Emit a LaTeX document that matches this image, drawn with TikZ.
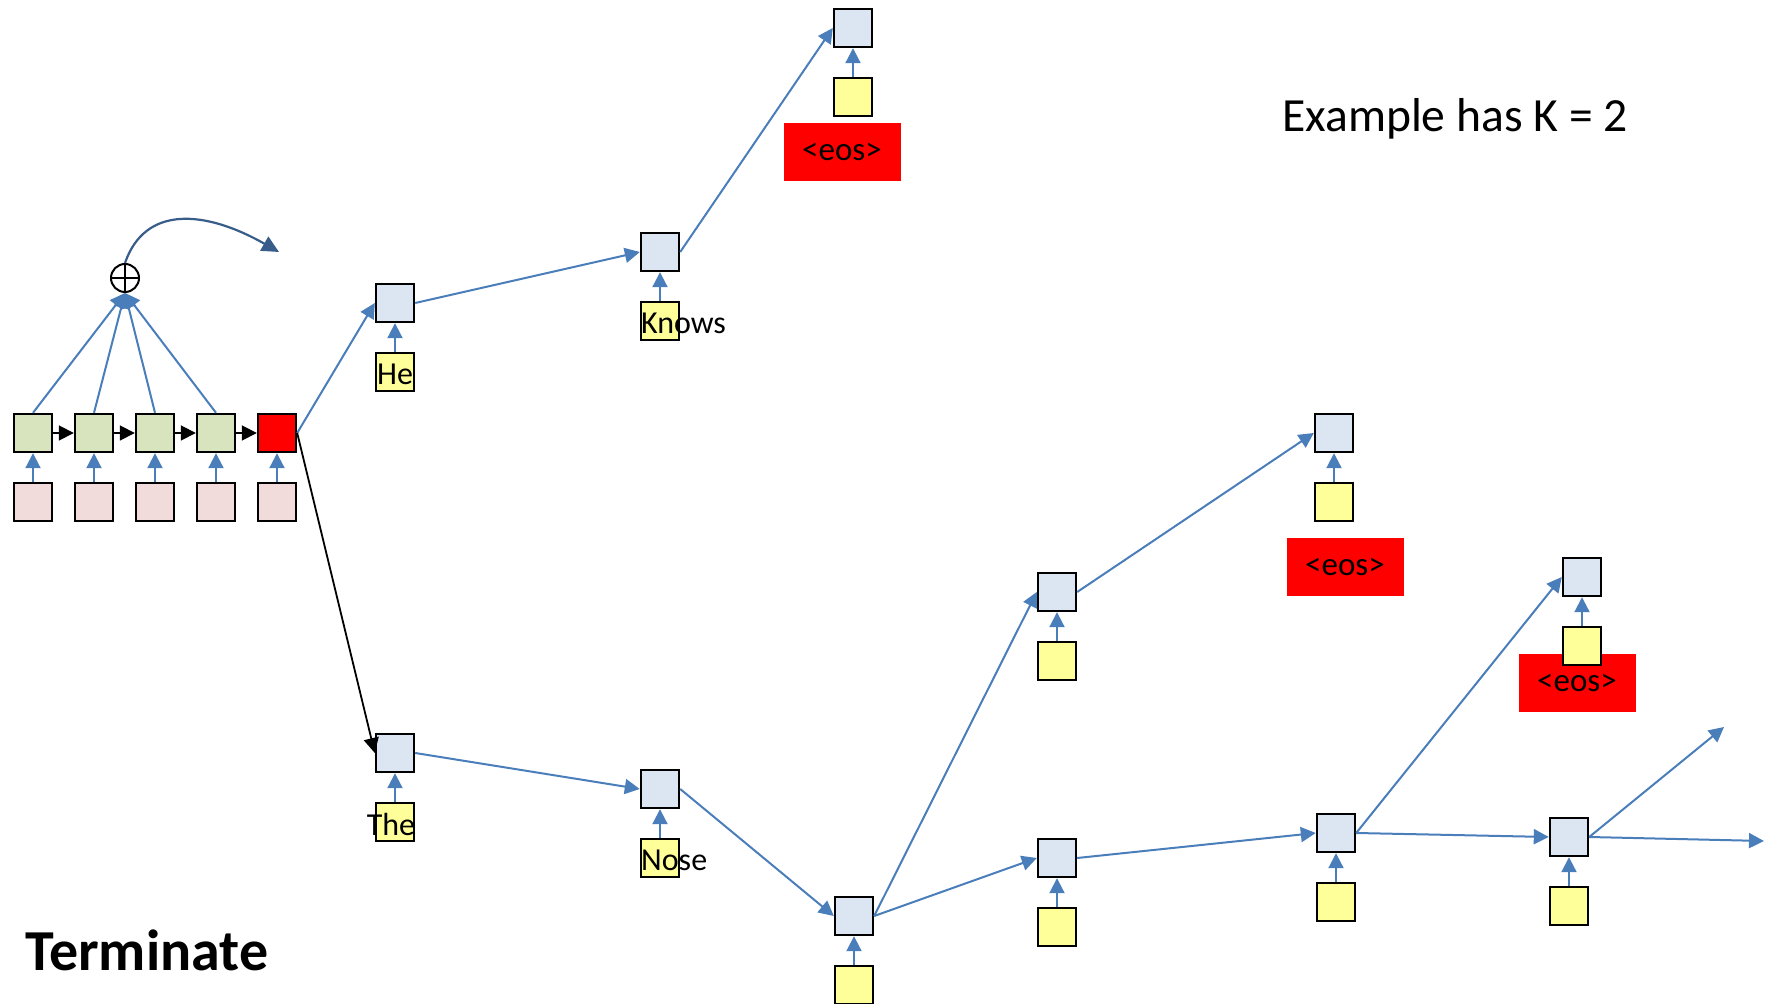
\documentclass[tikz,border=0pt]{standalone}
\usepackage{fontspec}
\setmainfont{Carlito}
\usetikzlibrary{arrows.meta, positioning}
\definecolor{beamblue}{HTML}{4A7EBB}
\definecolor{beamdark}{HTML}{385D8A}
\definecolor{beamhid}{HTML}{DCE6F2}
\definecolor{beamword}{HTML}{FFFF99}
\definecolor{beamenc}{HTML}{D7E4BD}
\definecolor{beamsrc}{HTML}{F2DCDB}
\definecolor{beamred}{HTML}{FF0000}
\tikzset{
  >={Triangle[length=7.5pt, width=7.5pt]},
  cell/.style={rectangle, draw=black, line width=1.2pt, minimum size=19pt, inner sep=0pt},
  hid/.style={cell, fill=beamhid},
  word/.style={cell, fill=beamword},
  enc/.style={cell, fill=beamenc},
  src/.style={cell, fill=beamsrc},
  encr/.style={cell, fill=beamred},
  eosbox/.style={rectangle, fill=beamred, minimum width=58.5pt, minimum height=29pt,
                 inner sep=0pt, font=\fontsize{16.5}{18}\selectfont},
  lbl/.style={inner sep=0pt, font=\fontsize{16}{18}\selectfont},
  flow/.style={->, line width=1pt, draw=beamblue},
  flowk/.style={->, line width=0.9pt, draw=black, >={Triangle[length=7.5pt, width=7.5pt]}},
  curv/.style={->, line width=1.1pt, draw=beamdark, >={Triangle[length=8.5pt, width=8pt]}},
}
\newcommand{\sizept}[1]{\fontsize{#1}{#1}\selectfont}

\begin{document}
\begin{tikzpicture}[x=0.5pt, y=-0.5pt]
  \useasboundingbox (0,0) rectangle (1773,1004);
  % encoder
  \node[enc] (e1) at (33,433) {};
  \node[enc, right=10.3pt of e1] (e2) {};
  \node[enc, right=10.3pt of e2] (e3) {};
  \node[enc, right=10.3pt of e3] (e4) {};
  \node[encr, right=10.3pt of e4] (e5) {};
  \node[src, below=14.3pt of e1] (x1) {};
  \node[src, below=14.3pt of e2] (x2) {};
  \node[src, below=14.3pt of e3] (x3) {};
  \node[src, below=14.3pt of e4] (x4) {};
  \node[src, below=14.3pt of e5] (x5) {};
  \draw[flow] (x1) -- (e1);
  \draw[flow] (x2) -- (e2);
  \draw[flow] (x3) -- (e3);
  \draw[flow] (x4) -- (e4);
  \draw[flow] (x5) -- (e5);
  \draw[flowk] (e1) -- (e2);
  \draw[flowk] (e2) -- (e3);
  \draw[flowk] (e3) -- (e4);
  \draw[flowk] (e4) -- (e5);
  % attention sum
  \node[draw, circle, line width=1pt, minimum size=14pt, inner sep=0pt,
        path picture={\draw[line width=0.8pt] (path picture bounding box.north) -- (path picture bounding box.south)
                      (path picture bounding box.west) -- (path picture bounding box.east);}] (sum) at (125,278) {};
  \draw[flow] (e1.north) -- (sum.south);
  \draw[flow] (e2.north) -- (sum.south);
  \draw[flow] (e3.north) -- (sum.south);
  \draw[flow] (e4.north) -- (sum.south);
  \coordinate (ctx) at (279,252);
  \draw[curv] (sum.north) .. controls (145,205) and (205,210) .. (ctx);

  % red eos boxes
  \node[eosbox] (r1) at (842,152) {<eos>};
  \node[eosbox] (r2) at (1345,567) {<eos>};
  \node[eosbox] (r3) at (1577,683) {<eos>};

  % decoder states
  \node[hid] (he) at (395,303) {};
  \node[hid] (kn) at (660,252) {};
  \node[hid] (te) at (853,28) {};
  \node[hid] (th) at (395,753) {};
  \node[hid] (no) at (660,789) {};
  \node[hid] (n3) at (854,916) {};
  \node[hid] (n4u) at (1057,592) {};
  \node[hid] (n4l) at (1057,858) {};
  \node[hid] (e2s) at (1334,433) {};
  \node[hid] (n5) at (1336,833) {};
  \node[hid] (e3s) at (1582,577) {};
  \node[hid] (n6) at (1569,837) {};
  \coordinate (o1) at (1724,727);
  \coordinate (o2) at (1764,841);

  % decoder inputs
  \node[word, below=14.3pt of he] (hew) {};
  \node[word, below=14.3pt of kn] (knw) {};
  \node[word, below=14.3pt of te] (tew) {};
  \node[word, below=14.3pt of th] (thw) {};
  \node[word, below=14.3pt of no] (now) {};
  \node[word, below=14.3pt of n3] (n3w) {};
  \node[word, below=14.3pt of n4u] (n4uw) {};
  \node[word, below=14.3pt of n4l] (n4lw) {};
  \node[word, below=14.3pt of e2s] (e2w) {};
  \node[word, below=14.3pt of n5] (n5w) {};
  \node[word, below=14.3pt of e3s] (e3w) {};
  \node[word, below=14.3pt of n6] (n6w) {};
  \node[lbl] at ([yshift=-1.2pt]hew) {He};
  \node[lbl] at ([xshift=-2pt, yshift=-1.2pt]thw) {The};
  \node[lbl, anchor=west] at ([xshift=0.5pt, yshift=-1.2pt]knw.west) {Knows};
  \node[lbl, anchor=west] at ([xshift=0.5pt, yshift=-1.2pt]now.west) {Nose};
  \draw[flow] (hew) -- (he);
  \draw[flow] (knw) -- (kn);
  \draw[flow] (tew) -- (te);
  \draw[flow] (thw) -- (th);
  \draw[flow] (now) -- (no);
  \draw[flow] (n3w) -- (n3);
  \draw[flow] (n4uw) -- (n4u);
  \draw[flow] (n4lw) -- (n4l);
  \draw[flow] (e2w) -- (e2s);
  \draw[flow] (n5w) -- (n5);
  \draw[flow] (e3w) -- (e3s);
  \draw[flow] (n6w) -- (n6);

  % beam
  \draw[flow] (e5.east) -- (he.west);
  \draw[flowk] (e5.east) -- (th.west);
  \draw[flow] (he.east) -- (kn.west);
  \draw[flow] (kn.east) -- (te.west);
  \draw[flow] (th.east) -- (no.west);
  \draw[flow] (no.east) -- (n3.west);
  \draw[flow] (n3.east) -- (n4u.west);
  \draw[flow] (n3.east) -- (n4l.west);
  \draw[flow] (n4u.east) -- (e2s.west);
  \draw[flow] (n4l.east) -- (n5.west);
  \draw[flow] (n5.east) -- (e3s.west);
  \draw[flow] (n5.east) -- (n6.west);
  \draw[flow] (n6.east) -- (o1);
  \draw[flow] (n6.east) -- (o2);

  \node[inner sep=0pt, font=\sizept{23.8}] (kk) at (1455,119) {Example has K = 2};
  \node[inner sep=0pt, anchor=base west, font=\bfseries\sizept{29}] (term) at (25,971) {Terminate};
\end{tikzpicture}
\end{document}
